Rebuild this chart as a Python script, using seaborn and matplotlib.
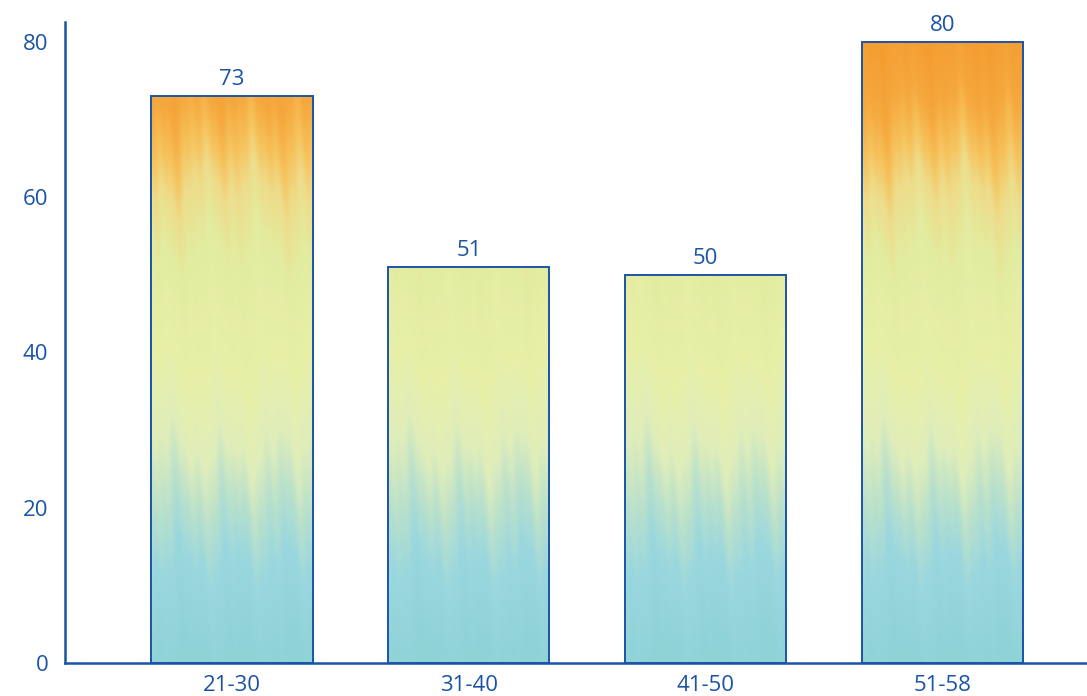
import numpy as np
import pandas as pd
import seaborn as sns
import matplotlib.pyplot as plt
from matplotlib.colors import LinearSegmentedColormap

# Data
age_groups = ["21-30", "31-40", "41-50", "51-58"]
counts = [73, 51, 50, 80]
y_ticks = [0, 20, 40, 60, 80]

ink = "#1b54a7"

sns.set_theme(style="white")
plt.rcParams["font.family"] = ["Open Sans", "DejaVu Sans"]

fig = plt.figure(figsize=(10.87, 6.96), dpi=100)
ax = fig.add_axes([65 / 1087, 1 - 663 / 696, 1 - 65 / 1087, (663 - 22) / 696])

df = pd.DataFrame({"age": age_groups, "count": counts})
sns.barplot(data=df, x="age", y="count", ax=ax, width=0.68,
            facecolor="none", edgecolor=ink, linewidth=1.4, zorder=3)

# Watercolour-like fill: teal at the base, pale yellow-green in the middle,
# orange towards the top.  Colour depends on the value axis.
stops = [
    (0.00, "#8fd3d7"),
    (0.15, "#9ad7de"),
    (0.24, "#b8e0cc"),
    (0.33, "#dfedba"),
    (0.45, "#e8f0a8"),
    (0.62, "#e2eca0"),
    (0.72, "#eedc8a"),
    (0.79, "#f6c25c"),
    (0.87, "#f5a93e"),
    (1.00, "#f49c30"),
]
cmap = LinearSegmentedColormap.from_list("wash", stops)

vmax = 82.0
ny, nx = 400, 160
v = np.linspace(0, vmax, ny)[:, None]
u = np.linspace(0, 1, nx)[None, :]
streak = (2.0 * np.sin(2 * np.pi * (3.1 * u + 0.012 * v))
          + 1.2 * np.sin(2 * np.pi * (7.3 * u + 0.3) + 0.08 * v)
          + 0.8 * np.sin(2 * np.pi * (13.7 * u) + 0.2 * v))
# centre of the wash runs a little "higher" (more yellow), edges a bit cooler
centre = 3.0 * (1 - (np.abs(u - 0.5) * 2) ** 2) * np.exp(-((v - 60) / 14) ** 2)
edge = 3.0 * (np.abs(u - 0.5) * 2) ** 2 * np.exp(-((v - 35) / 12) ** 2)
v_eff = v + streak - centre - edge
rgba = cmap(np.clip(v_eff / vmax, 0, 1))

for patch in ax.patches:
    x0 = patch.get_x()
    x1 = x0 + patch.get_width()
    img = ax.imshow(rgba, extent=[x0, x1, 0, vmax], origin="lower",
                    aspect="auto", interpolation="bilinear", zorder=2)
    img.set_clip_path(patch)

ax.set_xlim(-0.705, 3.61)
ax.set_ylim(0, (663 - 22) / (621 / 80))

for patch, val in zip(ax.patches, counts):
    ax.annotate(f"{val}", (patch.get_x() + patch.get_width() / 2, val),
                xytext=(0, 4.5), textcoords="offset points",
                ha="center", va="bottom", fontsize=16, color=ink)

ax.set_yticks(y_ticks)
ax.set_xlabel("")
ax.set_ylabel("")
ax.tick_params(axis="both", length=0, labelsize=16, labelcolor=ink)
ax.tick_params(axis="y", pad=12)
ax.tick_params(axis="x", pad=8.5)

for side in ["top", "right"]:
    ax.spines[side].set_visible(False)
for side in ["left", "bottom"]:
    ax.spines[side].set_color(ink)
    ax.spines[side].set_linewidth(1.8)
ax.grid(False)

fig.savefig("out.png", dpi=100, facecolor="white")
